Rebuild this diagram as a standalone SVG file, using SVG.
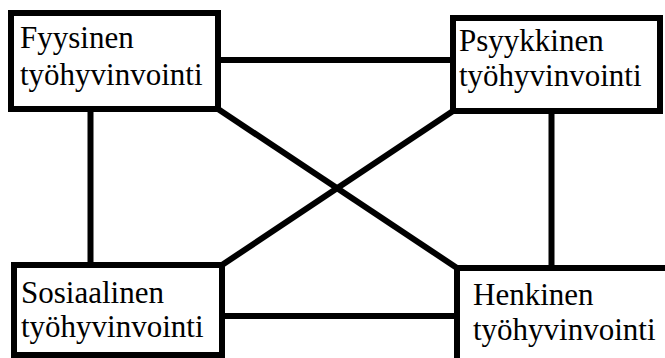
<svg xmlns="http://www.w3.org/2000/svg" width="665" height="358" viewBox="0 0 665 358" font-family="Liberation Serif, serif">
  <style>
    .box { fill: #ffffff; stroke: #000000; stroke-width: 6; }
    .link { stroke: #000000; stroke-width: 6; fill: none; }
  </style>
  <rect width="665" height="358" fill="#ffffff"/>

  <!-- connectors between the four wellbeing areas -->
  <g id="connectors">
    <line class="link" x1="218" y1="60" x2="453" y2="60"/>
    <line class="link" x1="90.5" y1="109" x2="90.5" y2="265"/>
    <line class="link" x1="551.5" y1="111" x2="551.5" y2="268"/>
    <line class="link" x1="222" y1="316" x2="457" y2="316"/>
    <line class="link" x1="218" y1="109" x2="457" y2="268"/>
    <line class="link" x1="453" y1="111" x2="222" y2="265"/>
  </g>

  <g id="fyysinen">
    <rect class="box" x="11" y="13" width="207" height="96"/>
    <text x="20" y="48" font-family="Liberation Serif, serif" font-size="31">Fyysinen</text>
    <text x="20" y="85" font-family="Liberation Serif, serif" font-size="31">työhyvinvointi</text>
  </g>

  <g id="psyykkinen">
    <rect class="box" x="453" y="18" width="207" height="93"/>
    <text x="459" y="51" font-family="Liberation Serif, serif" font-size="31">Psyykkinen</text>
    <text x="459" y="86" font-family="Liberation Serif, serif" font-size="31">työhyvinvointi</text>
  </g>

  <g id="sosiaalinen">
    <rect class="box" x="14" y="265" width="208" height="90"/>
    <text x="21" y="303" font-family="Liberation Serif, serif" font-size="31">Sosiaalinen</text>
    <text x="21" y="337" font-family="Liberation Serif, serif" font-size="31">työhyvinvointi</text>
  </g>

  <g id="henkinen">
    <rect class="box" x="457" y="268" width="220" height="110"/>
    <text x="473" y="305" font-family="Liberation Serif, serif" font-size="31">Henkinen</text>
    <text x="473" y="340" font-family="Liberation Serif, serif" font-size="31">työhyvinvointi</text>
  </g>
</svg>
